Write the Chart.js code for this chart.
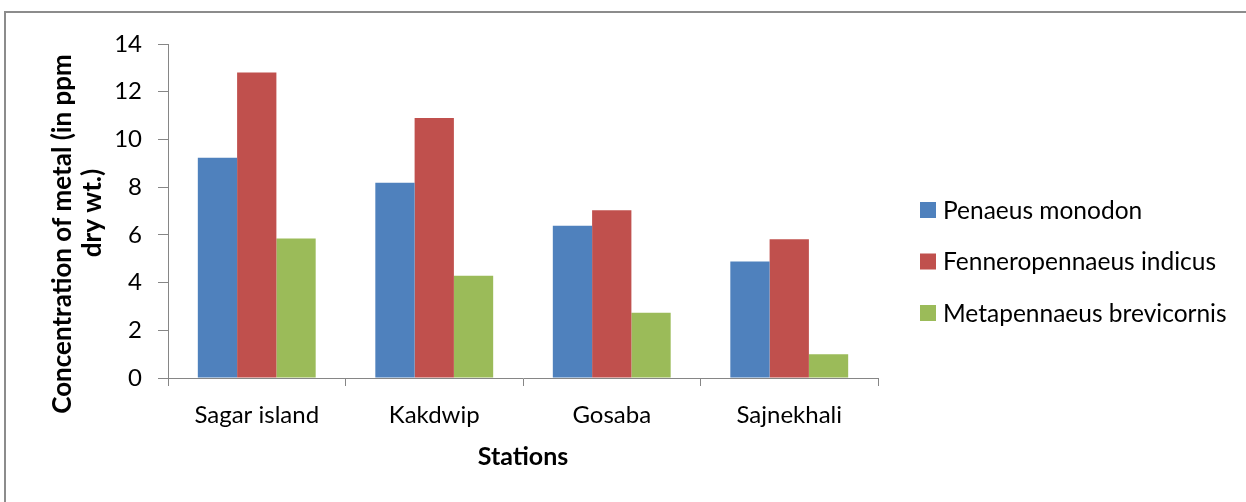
<!DOCTYPE html>
<html>
<head>
<meta charset="utf-8">
<script src="https://cdn.jsdelivr.net/npm/chart.js@4/dist/chart.umd.min.js"></script>
<style>
  html, body { margin: 0; padding: 0; background: #ffffff; }
  #wrap { position: relative; width: 1246px; height: 502px; }
</style>
</head>
<body>
<div id="wrap"><canvas id="chart" width="1246" height="502"></canvas></div>
<script>
// Stations sampled
const stations = ['Sagar island', 'Kakdwip', 'Gosaba', 'Sajnekhali'];

// Metal concentration (ppm dry wt.) per species
const penaeusMonodon = [9.23, 8.18, 6.38, 4.88];
const fenneropenaeusIndicus = [12.81, 10.9, 7.03, 5.82];
const metapenaeusBrevicornis = [5.85, 4.29, 2.74, 1.0];

const speciesNames = ['Penaeus monodon', 'Fenneropennaeus indicus', 'Metapennaeus brevicornis'];
const speciesColors = ['#4F81BD', '#C0504D', '#9BBB59'];

const yTitleLines = ['Concentration of metal (in ppm', 'dry wt.)'];
const xTitle = 'Stations';

const FONT = 'Lato, "Open Sans", sans-serif';
const AXIS_GREY = '#868686';

// Outer frame of the chart area
const framePlugin = {
  id: 'frame',
  beforeDraw(chart) {
    const ctx = chart.ctx;
    ctx.save();
    ctx.strokeStyle = '#8c8c8c';
    ctx.lineWidth = 2;
    ctx.beginPath();
    ctx.moveTo(5, chart.height + 2);
    ctx.lineTo(5, 12);
    ctx.lineTo(chart.width + 2, 12);
    ctx.stroke();
    ctx.restore();
  }
};

// Two-line rotated title for the value axis
const yTitlePlugin = {
  id: 'yTitle',
  afterDraw(chart) {
    const ctx = chart.ctx;
    const mid = (chart.chartArea.top + chart.chartArea.bottom) / 2;
    ctx.save();
    ctx.fillStyle = '#000000';
    ctx.font = 'bold 26px ' + FONT;
    ctx.textAlign = 'center';
    ctx.textBaseline = 'middle';
    const spots = [[63, mid + 23], [93, mid + 2]];
    yTitleLines.forEach((line, i) => {
      ctx.save();
      ctx.translate(spots[i][0], spots[i][1]);
      ctx.rotate(-Math.PI / 2);
      ctx.fillText(line, 0, 0);
      ctx.restore();
    });
    ctx.restore();
  }
};

// Legend to the right of the plot
const sideLegendPlugin = {
  id: 'sideLegend',
  afterDraw(chart) {
    const ctx = chart.ctx;
    ctx.save();
    ctx.font = '24.5px ' + FONT;
    ctx.textBaseline = 'middle';
    ctx.textAlign = 'left';
    chart.data.datasets.forEach((ds, i) => {
      const cy = 210 + i * 51.5;
      ctx.fillStyle = ds.backgroundColor;
      ctx.fillRect(920, cy - 8, 16, 16);
      ctx.fillStyle = '#000000';
      ctx.fillText(ds.label, 943, cy + 1);
    });
    ctx.restore();
  }
};

const seriesValues = [penaeusMonodon, fenneropenaeusIndicus, metapenaeusBrevicornis];

new Chart(document.getElementById('chart'), {
  type: 'bar',
  data: {
    labels: stations,
    datasets: seriesValues.map((vals, i) => ({
      label: speciesNames[i],
      data: vals,
      backgroundColor: speciesColors[i],
      borderWidth: 0,
      categoryPercentage: 0.664,
      barPercentage: 1.0
    }))
  },
  options: {
    responsive: false,
    animation: false,
    layout: { padding: { left: 0, right: 368, top: 44, bottom: 0 } },
    plugins: {
      legend: { display: false },
      tooltip: { enabled: false }
    },
    scales: {
      x: {
        afterFit(scale) { scale.height = 124; },
        grid: {
          offset: true,
          drawOnChartArea: false,
          drawTicks: true,
          tickLength: 8,
          color: AXIS_GREY
        },
        border: { color: AXIS_GREY, width: 1 },
        ticks: {
          color: '#000000',
          padding: 15,
          maxRotation: 0,
          font: { family: FONT, size: 24 }
        },
        title: {
          display: true,
          text: xTitle,
          color: '#000000',
          font: { family: FONT, size: 25, weight: 'bold' },
          padding: { top: 0, bottom: 30 }
        }
      },
      y: {
        min: 0,
        max: 14,
        afterFit(scale) { scale.width = 168; },
        grid: {
          drawOnChartArea: false,
          drawTicks: true,
          tickLength: 10,
          color: AXIS_GREY
        },
        border: { color: AXIS_GREY, width: 1 },
        ticks: {
          stepSize: 2,
          color: '#000000',
          padding: 16,
          font: { family: FONT, size: 24 }
        }
      }
    }
  },
  plugins: [framePlugin, yTitlePlugin, sideLegendPlugin]
});
</script>
</body>
</html>
